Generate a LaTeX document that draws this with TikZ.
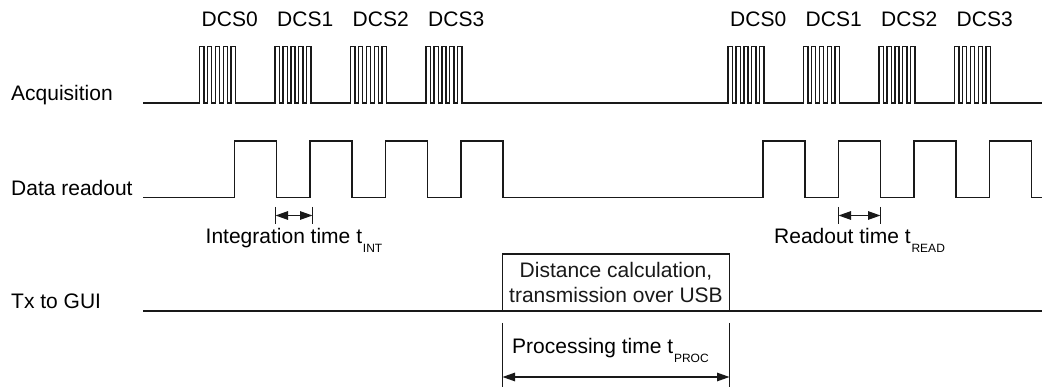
\documentclass[tikz,border=0pt]{standalone}
\usepackage{fontspec}
\setmainfont{Liberation Sans}
\usetikzlibrary{arrows.meta}
\newcommand{\subtxt}[1]{\kern0.8pt\raisebox{-8.5pt}{\fontsize{12}{13}\selectfont #1}}
\begin{document}
\begin{tikzpicture}[x=1pt,y=-1pt,
  sig/.style={line width=1.4pt, line join=miter, color=black!90},
  lbl/.style={anchor=base west, inner sep=0pt, font=\fontsize{21}{24}\selectfont},
  dim/.style={line width=1.3pt, color=black!90, {Triangle[length=12.5pt,width=8.5pt]}-{Triangle[length=12.5pt,width=8.5pt]}},
  tick/.style={line width=1.3pt, color=black!90}]
\useasboundingbox (0,0) rectangle (1042,387);

% row labels
\node[lbl] (lacq) at (11,101) {Acquisition};
\node[lbl] (lread) at (11,196) {Data readout};
\node[lbl] (ltx) at (11,309) {Tx to GUI};

% DCS labels
\foreach \b/\t [count=\k] in {199.5/DCS0,275/DCS1,350.5/DCS2,426/DCS3,728/DCS0,803.5/DCS1,879/DCS2,954.5/DCS3}
  \node[lbl] (dcs\k) at ({\b+2},26.5) {\t};

% Acquisition signal
\draw[sig] (143,103)
  \foreach \b in {199.5,275,350.5,426,728,803.5,879,954.5} {
    \foreach \i in {0,...,4} {
      -- ({\b+\i*7.9},103) -- ({\b+\i*7.9},46.5) -- ({\b+\i*7.9+4.35},46.5) -- ({\b+\i*7.9+4.35},103)
    }
  } -- (1042,103);

% Data readout signal
\draw[sig] (143,197.5)
  \foreach \b in {199.5,275,350.5,426,728,803.5,879,954.5} {
    -- ({\b+35},197.5) -- ({\b+35},141) -- ({\b+77},141) -- ({\b+77},197.5)
  } -- (1042,197.5);

% Tx to GUI
\draw[sig] (143,311) -- (1042,311);
\node[draw, sig, minimum width=227pt, minimum height=57pt, inner sep=0pt, align=center,
      font=\fontsize{21}{24.5}\selectfont, fill=white] (box) at (616,282.5)
      {Distance calculation,\\transmission over USB};

% Integration time
\coordinate (ia1) at (275.5,207); \coordinate (ia2) at (275.5,224);
\coordinate (ib1) at (312.5,207); \coordinate (ib2) at (312.5,224);
\coordinate (ia) at (275.5,215.5); \coordinate (ib) at (312.5,215.5);
\draw[tick] (ia1) -- (ia2); \draw[tick] (ib1) -- (ib2);
\draw[dim] (ia) -- (ib);
\node[lbl] (lint) at (205.5,244) {Integration time t\subtxt{INT}};

% Readout time
\coordinate (ra1) at (838.5,207); \coordinate (ra2) at (838.5,224);
\coordinate (rb1) at (880.5,207); \coordinate (rb2) at (880.5,224);
\coordinate (ra) at (838.5,215.5); \coordinate (rb) at (880.5,215.5);
\draw[tick] (ra1) -- (ra2); \draw[tick] (rb1) -- (rb2);
\draw[dim] (ra) -- (rb);
\node[lbl] (lrd) at (774,244) {Readout time t\subtxt{READ}};

% Processing time
\coordinate (pa1) at (502.5,323); \coordinate (pa2) at (502.5,387);
\coordinate (pb1) at (729.5,323); \coordinate (pb2) at (729.5,387);
\coordinate (pa) at (502.5,377); \coordinate (pb) at (729.5,377);
\draw[tick] (pa1) -- (pa2); \draw[tick] (pb1) -- (pb2);
\draw[dim] (pa) -- (pb);
\node[lbl] (lproc) at (512,354) {Processing time t\subtxt{PROC}};
\end{tikzpicture}
\end{document}
